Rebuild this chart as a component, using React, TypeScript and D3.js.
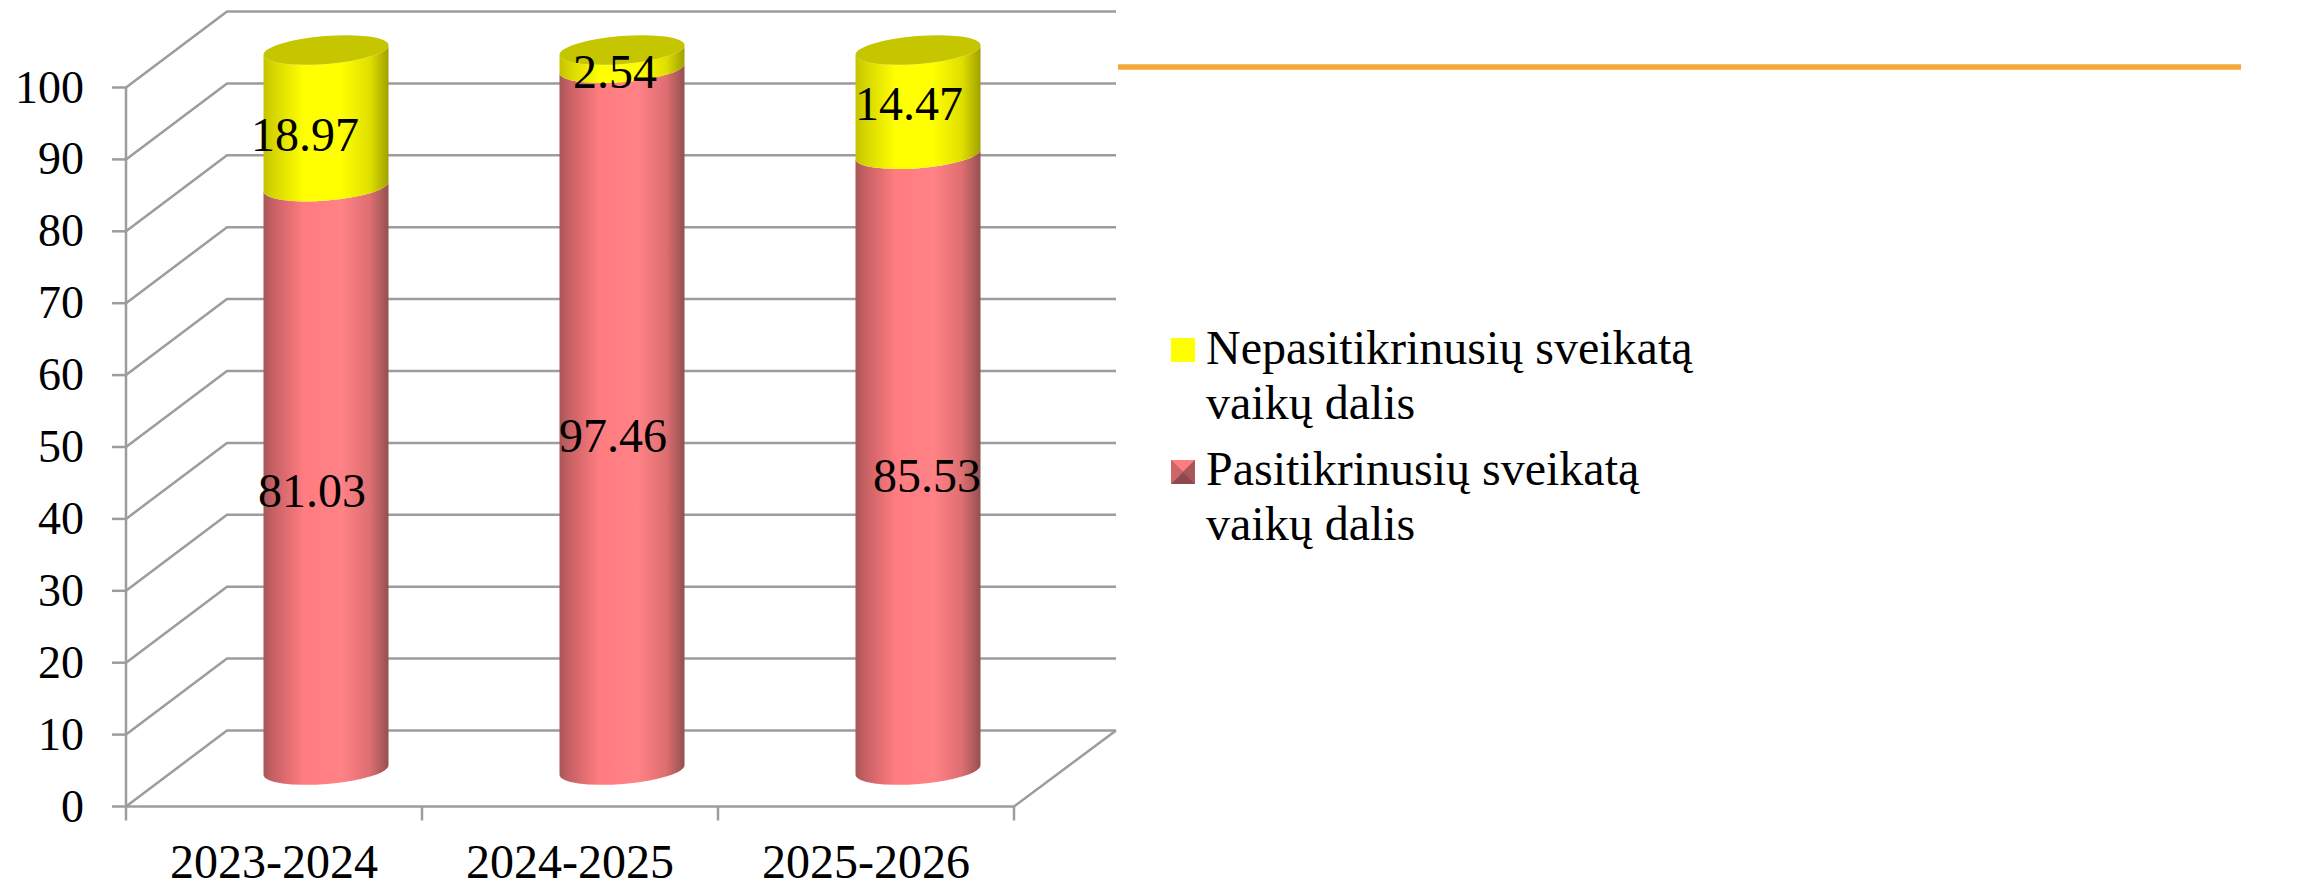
import React from "react";
import * as d3 from "d3";

const categories = ["2023-2024", "2024-2025", "2025-2026"];
const checkedLabel = ["81.03", "97.46", "85.53"];
const checked = [81.03, 97.46, 85.53];
const uncheckedLabel = ["18.97", "2.54", "14.47"];
const unchecked = [18.97, 2.54, 14.47];
const yTicks = [0, 10, 20, 30, 40, 50, 60, 70, 80, 90, 100];
const legendLines = [
  ["Nepasitikrinusių sveikatą", "vaikų dalis"],
  ["Pasitikrinusių sveikatą", "vaikų dalis"],
];

const W = 2298, H = 884;
const FONT = "'Liberation Serif', 'Times New Roman', serif";
const GRID = "#9c9c9c";
const FRONT_L = 126, FRONT_R = 1014, FRONT_B = 806.5, FRONT_T = 87.5;
const DX = 101, DY = -76;
const BAR_W = 125, TILT = 10, RY = 14;
const BAR_SHIFT = DX / 2 + 1.5;

const x = d3.scaleBand<string>().domain(categories).range([FRONT_L, FRONT_R]);
const y = d3.scaleLinear().domain([0, 100]).range([FRONT_B, FRONT_T]);
const barY = d3.scaleLinear().domain([0, 100]).range([770, 50]);

const rx = Math.hypot(BAR_W, TILT) / 2;
const rot = (Math.atan2(-TILT, BAR_W) * 180) / Math.PI;

function segment(cx: number, v0: number, v1: number) {
  const l = cx - BAR_W / 2, r = cx + BAR_W / 2;
  const y0 = barY(v0), y1 = barY(v1);
  return `M${l},${y0 + TILT / 2} A${rx},${RY} ${rot} 0 0 ${r},${y0 - TILT / 2} L${r},${y1 - TILT / 2} A${rx},${RY} ${rot} 0 1 ${l},${y1 + TILT / 2} Z`;
}

// small manual nudges of the data labels, matching the source's placement
const redNudge = [[-14, 13], [-9, 17], [9, 14]];
const yellowNudge = [[-21, 17], [-7, 13], [-9, 2]];

export default function App() {
  const bw = x.bandwidth();
  return (
    <svg width={W} height={H} viewBox={`0 0 ${W} ${H}`} style={{ position: "absolute", left: 0, top: 0, background: "#fff" }} fontFamily={FONT} fill="#000">
      <defs>
        <linearGradient id="red" x1="0" x2="1" y1="0" y2="0">
          <stop offset="0" stopColor="#a85658" />
          <stop offset="0.08" stopColor="#c86164" />
          <stop offset="0.32" stopColor="#ff7c80" />
          <stop offset="0.62" stopColor="#ff8286" />
          <stop offset="0.85" stopColor="#df6f72" />
          <stop offset="1" stopColor="#94504f" />
        </linearGradient>
        <linearGradient id="yellow" x1="0" x2="1" y1="0" y2="0">
          <stop offset="0" stopColor="#c4c400" />
          <stop offset="0.08" stopColor="#d6d600" />
          <stop offset="0.32" stopColor="#ffff00" />
          <stop offset="0.62" stopColor="#ffff00" />
          <stop offset="0.85" stopColor="#e0e000" />
          <stop offset="1" stopColor="#a0a000" />
        </linearGradient>
      </defs>

      {/* walls */}
      <g stroke={GRID} strokeWidth={2.5} fill="none">
        {yTicks.map((t) => (
          <polyline key={t} points={`${FRONT_L},${y(t)} ${FRONT_L + DX},${y(t) + DY} ${FRONT_R + DX + 1},${y(t) + DY}`} />
        ))}
        <line x1={FRONT_L} x2={FRONT_L} y1={y(100)} y2={y(0)} />
        <line x1={FRONT_L} x2={FRONT_R} y1={y(0)} y2={y(0)} />
        <line x1={FRONT_R} y1={y(0)} x2={FRONT_R + DX + 1} y2={y(0) + DY} />
        {yTicks.map((t) => (
          <line key={t} x1={FRONT_L - 14} x2={FRONT_L} y1={y(t)} y2={y(t)} />
        ))}
        {[...categories.map((c) => x(c) as number), FRONT_R].map((px) => (
          <line key={px} x1={px} x2={px} y1={y(0)} y2={y(0) + 14} />
        ))}
      </g>

      {yTicks.map((t) => (
        <text key={t} x={84} y={y(t) + 15} fontSize={46} textAnchor="end">{t}</text>
      ))}
      {categories.map((c) => (
        <text key={c} x={(x(c) as number) + bw / 2} y={877.5} fontSize={48} textAnchor="middle">{c}</text>
      ))}

      {/* cylinders */}
      {categories.map((c, i) => {
        const cx = (x(c) as number) + bw / 2 + BAR_SHIFT;
        const top = checked[i] + unchecked[i];
        return (
          <g key={c}>
            <path d={segment(cx, 0, checked[i])} fill="url(#red)" />
            <path d={segment(cx, checked[i], top)} fill="url(#yellow)" />
            <ellipse cx={cx} cy={barY(top)} rx={rx} ry={RY} transform={`rotate(${rot} ${cx} ${barY(top)})`} fill="#c6c600" />
          </g>
        );
      })}

      {/* data labels */}
      <g fontSize={48} textAnchor="middle">
        {categories.map((c, i) => {
          const cx = (x(c) as number) + bw / 2 + BAR_SHIFT;
          return (
            <g key={c}>
              <text x={cx + redNudge[i][0]} y={barY(checked[i] / 2) + redNudge[i][1] + 16}>{checkedLabel[i]}</text>
              <text x={cx + yellowNudge[i][0]} y={barY(checked[i] + unchecked[i] / 2) + yellowNudge[i][1] + 16}>{uncheckedLabel[i]}</text>
            </g>
          );
        })}
      </g>

      {/* orange line */}
      <line x1={1118} x2={2241} y1={67} y2={67} stroke="#f4a83a" strokeWidth={5.5} />

      {/* legend */}
      <rect x={1171} y={338} width={24} height={24} fill="#ffff00" />
      <g>
        <rect x={1171} y={460} width={24} height={24} fill="#b35a5c" />
        <polygon points="1171,460 1195,460 1183,472" fill="#ff7c80" />
        <polygon points="1171,484 1195,484 1183,472" fill="#8c4a4c" />
        <polygon points="1171,460 1183,472 1171,484" fill="#cc6668" />
        <polygon points="1195,460 1183,472 1195,484" fill="#a85658" />
      </g>
      <g fontSize={48}>
        {legendLines.map((ls, i) =>
          ls.map((l, j) => (
            <text key={l + i} x={1206} y={364 + i * 121 + j * 55}>{l}</text>
          ))
        )}
      </g>
    </svg>
  );
}
